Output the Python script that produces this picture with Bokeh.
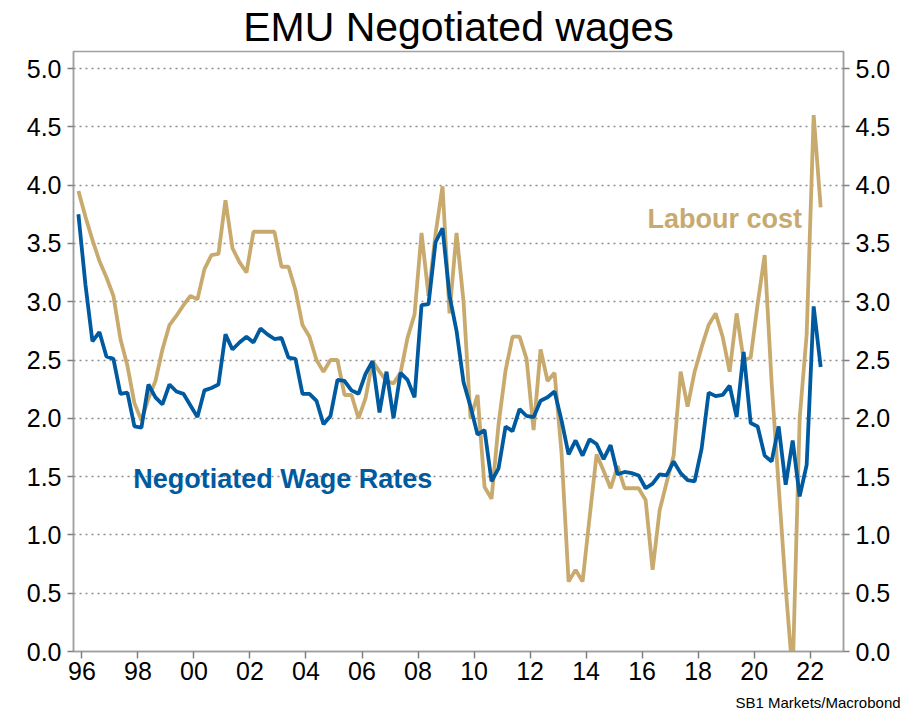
import pandas as pd
from bokeh.plotting import figure
from bokeh.models import (Range1d, LinearAxis, FixedTicker, NumeralTickFormatter,
                          Label, ColumnDataSource, Title)
from bokeh.embed import file_html
from bokeh.resources import INLINE

# Quarterly observations, 1995Q4 .. 2022Q2
quarters = pd.period_range("1995Q4", "2022Q2", freq="Q")

labour_cost = [
    3.95, 3.73, 3.53, 3.35, 3.21, 3.05, 2.68, 2.45, 2.13, 1.98,
    2.17, 2.32, 2.59, 2.80, 2.88, 2.97, 3.05, 3.02, 3.28, 3.40,
    3.41, 3.87, 3.46, 3.34, 3.25, 3.60, 3.60, 3.60, 3.60, 3.30,
    3.30, 3.10, 2.80, 2.70, 2.50, 2.40, 2.50, 2.50, 2.20, 2.20,
    2.00, 2.17, 2.49, 2.40, 2.32, 2.30, 2.39, 2.69, 2.89, 3.59,
    3.05, 3.58, 3.99, 2.90, 3.59, 3.00, 2.00, 2.20, 1.41, 1.31,
    1.95, 2.41, 2.70, 2.70, 2.51, 1.90, 2.59, 2.32, 2.39, 1.70,
    0.60, 0.70, 0.60, 1.15, 1.69, 1.55, 1.40, 1.59, 1.40, 1.40,
    1.40, 1.30, 0.70, 1.21, 1.45, 1.68, 2.40, 2.10, 2.40, 2.61,
    2.80, 2.90, 2.70, 2.40, 2.90, 2.50, 2.52, 2.98, 3.40, 2.30,
    1.42, 0.55, -0.20, 2.00, 2.72, 4.60, 3.81,
]

negotiated_wages = [
    3.75, 3.15, 2.66, 2.74, 2.53, 2.51, 2.21, 2.22, 1.93, 1.92,
    2.29, 2.18, 2.12, 2.29, 2.23, 2.21, 2.11, 2.01, 2.24, 2.26,
    2.29, 2.72, 2.59, 2.65, 2.70, 2.65, 2.77, 2.72, 2.68, 2.69,
    2.52, 2.51, 2.21, 2.21, 2.15, 1.95, 2.02, 2.33, 2.32, 2.24,
    2.21, 2.38, 2.49, 2.05, 2.40, 2.00, 2.39, 2.33, 2.18, 2.97,
    2.98, 3.51, 3.63, 3.05, 2.75, 2.31, 2.10, 1.86, 1.90, 1.46,
    1.57, 1.93, 1.89, 2.08, 2.02, 2.01, 2.15, 2.18, 2.23, 1.98,
    1.69, 1.81, 1.68, 1.82, 1.78, 1.65, 1.77, 1.52, 1.54, 1.53,
    1.51, 1.40, 1.44, 1.52, 1.51, 1.63, 1.53, 1.47, 1.46, 1.74,
    2.22, 2.19, 2.20, 2.28, 2.01, 2.57, 1.96, 1.93, 1.68, 1.63,
    1.93, 1.43, 1.81, 1.33, 1.60, 2.96, 2.44,
]

year_ticks = [1996, 1998, 2000, 2002, 2004, 2006, 2008, 2010, 2012, 2014,
              2016, 2018, 2020, 2022]
year_labels = ["96", "98", "00", "02", "04", "06", "08", "10", "12", "14",
               "16", "18", "20", "22"]
value_ticks = [0.0, 0.5, 1.0, 1.5, 2.0, 2.5, 3.0, 3.5, 4.0, 4.5, 5.0]

GOLD = "#C8AA6E"
BLUE = "#005AA0"
FONT = "Liberation Sans"

# mid-quarter positions in decimal years
xpos = [q.year + (q.quarter - 1) / 4 + 0.125 for q in quarters]
src = ColumnDataSource(dict(x=xpos, lab=labour_cost, neg=negotiated_wages))

p = figure(width=908, height=720, output_backend="svg", toolbar_location=None,
           x_range=Range1d(1995.70, 2023.19), y_range=Range1d(0, 5.146),
           min_border_left=73, min_border_right=65, min_border_top=50,
           min_border_bottom=69)

p.title = Title(text="EMU Negotiated wages", align="center", text_font=FONT,
                text_font_size="41px", text_font_style="normal",
                text_color="black", standoff=3)

p.background_fill_color = "white"
p.border_fill_color = "white"
p.outline_line_color = "#A0A0A0"
p.outline_line_width = 1.5

p.line("x", "lab", source=src, color=GOLD, line_width=3.8)
p.line("x", "neg", source=src, color=BLUE, line_width=3.8)

p.xgrid.visible = False
p.ygrid.ticker = FixedTicker(ticks=value_ticks)
p.ygrid.grid_line_color = "#8C8C8C"
p.ygrid.grid_line_dash = "2 4"
p.ygrid.grid_line_width = 1.5

right_axis = LinearAxis()
p.add_layout(right_axis, "right")

for ax in [p.yaxis[0], right_axis]:
    ax.ticker = FixedTicker(ticks=value_ticks)
    ax.formatter = NumeralTickFormatter(format="0.0")

for ax in p.axis:
    ax.axis_line_color = "#A0A0A0"
    ax.axis_line_width = 1.5
    ax.major_tick_line_color = "#808080"
    ax.major_tick_line_width = 1.5
    ax.major_tick_in = 0
    ax.major_tick_out = 6
    ax.minor_tick_line_color = None
    ax.major_label_text_font = FONT
    ax.major_label_text_font_size = "25px"
    ax.major_label_text_color = "black"
    ax.major_label_standoff = 6

p.xaxis.ticker = FixedTicker(ticks=year_ticks)
p.xaxis.major_label_overrides = {t: l for t, l in zip(year_ticks, year_labels)}
p.xaxis.major_tick_out = 7
p.xaxis.major_label_standoff = 3

p.add_layout(Label(x=2016.19, y=3.71, text="Labour cost", text_font=FONT,
                   text_font_size="27px", text_font_style="bold",
                   text_color=GOLD, text_align="left", text_baseline="middle"))

p.add_layout(Label(x=1997.83, y=1.48, text="Negotiated Wage Rates", text_font=FONT,
                   text_font_size="27px", text_font_style="bold",
                   text_color=BLUE, text_align="left", text_baseline="middle"))

p.add_layout(Title(text="SB1 Markets/Macrobond", align="left", offset=662,
                   standoff=18, text_font=FONT, text_font_size="15px",
                   text_font_style="normal", text_color="black"), "below")

open("out.html", "w").write(file_html(p, INLINE))
